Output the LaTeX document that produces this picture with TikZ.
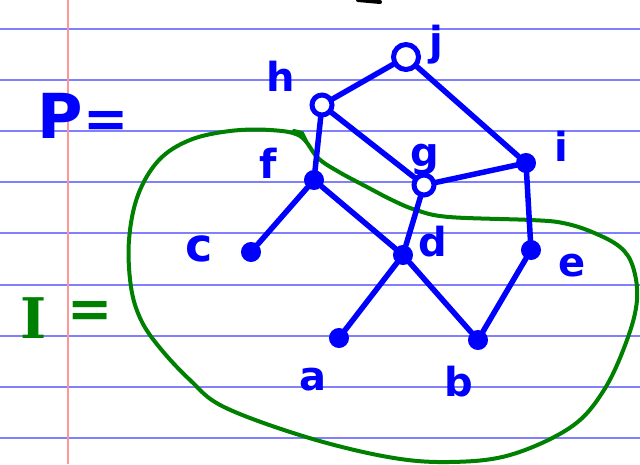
\documentclass[tikz,border=0pt]{standalone}
\usepackage{fontspec}
\setsansfont{DejaVu Sans}
\newfontfamily\ifont{DejaVu Serif}
\begin{document}
\begin{tikzpicture}[x=1pt,y=-1pt,
  rule/.style={draw={rgb,255:red,128;green,128;blue,255},line width=1.8pt},
  margin/.style={draw={rgb,255:red,255;green,150;blue,150},line width=1.5pt},
  vtx/.style={circle,draw=blue,fill=blue,line width=2pt,minimum size=18pt,inner sep=0pt},
  ring/.style={circle,draw=blue,fill=white,line width=5pt,minimum size=20pt,inner sep=0pt},
  edge/.style={draw=blue,line width=5.5pt,line cap=round},
  lbl/.style={text=blue,font=\sffamily\bfseries\fontsize{40}{40}\selectfont,inner sep=0pt},
  blob/.style={draw={rgb,255:red,0;green,128;blue,0},line width=4pt},
  glbl/.style={text={rgb,255:red,0;green,128;blue,0},inner sep=0pt}
]
\useasboundingbox (0,0) rectangle (640,464);
\fill[white] (0,0) rectangle (640,464);
% ruled paper
\foreach \yy in {29,80,131,182,233,285,336,387,438} \draw[rule] (0,\yy) -- (640,\yy);
\draw[margin] (68,0) -- (68,464);
% black mark at top
\draw[black,line width=4pt,line cap=round] (358,0) -- (380,2);
% green set I
\draw[blob] plot[smooth cycle,tension=0.6] coordinates {
 (300,136) (270,130) (230,131) (190,140) (159,160) (138,195) (129,240) (131,287) (141,320)
 (160,348) (190,380) (224,407) (306,437) (388,457) (449,462) (510,455) (571,427)
 (604,390) (627,340) (637,300) (633,267) (620,247) (592,232) (563,223) (531,220)
 (449,217) (416,210) (392,200) (367,187) (339,172) (318,158)};
\draw[blob,line cap=round] (294,131) -- (302,133) -- (306,141);
% labels P= and I=
\node[text=blue,font=\sffamily\bfseries\fontsize{62}{62}\selectfont,inner sep=0pt] (P) at (60,116) {P};
\node[text=blue,font=\sffamily\bfseries\fontsize{54}{54}\selectfont,inner sep=0pt] (Peq) at (106,124) {=};
\node[glbl,font=\ifont\bfseries\fontsize{56}{56}\selectfont] (I) at (34,318) {I};
\node[glbl,font=\sffamily\bfseries\fontsize{54}{54}\selectfont] (Ieq) at (90,314) {=};
% vertices
\node[ring,minimum size=25pt] (j) at (406,57) {};
\node[ring] (h) at (322,105) {};
\node[vtx] (i) at (526,163) {};
\node[vtx] (f) at (314,180) {};
\node[ring] (g) at (424,185) {};
\node[vtx] (c) at (251,252) {};
\node[vtx] (d) at (403,255) {};
\node[vtx] (e) at (531,250) {};
\node[vtx] (a) at (339,338) {};
\node[vtx] (b) at (478,340) {};
% edges
\draw[edge] (j) -- (h);
\draw[edge] (j) -- (i);
\draw[edge] (h) -- (f);
\draw[edge] (h) -- (g);
\draw[edge] (f) -- (c);
\draw[edge] (f) -- (d);
\draw[edge] (g) -- (d);
\draw[edge] (g) -- (i);
\draw[edge] (i) -- (e);
\draw[edge] (d) -- (a);
\draw[edge] (d) -- (b);
\draw[edge] (e) -- (b);
% vertex labels
\node[lbl] (lj) at (436,45) {j};
\node[lbl] (lh) at (281,76) {h};
\node[lbl] (li) at (561,146) {i};
\node[lbl] (lf) at (268,163) {f};
\node[lbl] (lg) at (425,160) {g};
\node[lbl,font=\sffamily\bfseries\fontsize{46}{46}\selectfont] (lc) at (199,249) {c};
\node[lbl] (ld) at (433,242) {d};
\node[lbl] (le) at (572,266) {e};
\node[lbl] (la) at (313,380) {a};
\node[lbl] (lb) at (459,382) {b};
\end{tikzpicture}
\end{document}
